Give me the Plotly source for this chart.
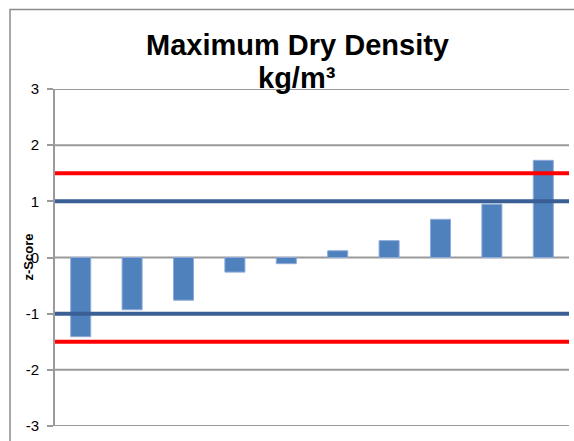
import plotly.graph_objects as go

categories = ["1", "2", "3", "4", "5", "6", "7", "8", "9", "10"]
z_scores = [-1.41, -0.93, -0.76, -0.26, -0.11, 0.12, 0.30, 0.68, 0.95, 1.73]
warn_limits = [1.0, -1.0]
action_limits = [1.5, -1.5]
y_ticks = [-3, -2, -1, 0, 1, 2, 3]

PLOT_TOP, PLOT_BOTTOM = 89, 426
GRID = "#9A9A9A"


def py(px):
    return (PLOT_BOTTOM - px) / (PLOT_BOTTOM - PLOT_TOP)


fig = go.Figure()
fig.add_trace(go.Bar(
    x=categories, y=z_scores, width=0.39,
    marker=dict(color="#4F81BD", line=dict(color="#8EAADB", width=1)),
    showlegend=False,
))

shapes = []
# horizontal gridlines at each tick
for t in y_ticks:
    shapes.append(dict(type="line", xref="paper", yref="y", x0=0, x1=1, y0=t, y1=t,
                       line=dict(color=GRID, width=2), layer="below"))
for v in warn_limits:
    shapes.append(dict(type="line", xref="paper", yref="y", x0=0, x1=1, y0=v, y1=v,
                       line=dict(color="#3A5F94", width=4), layer="above"))
for v in action_limits:
    shapes.append(dict(type="line", xref="paper", yref="y", x0=0, x1=1, y0=v, y1=v,
                       line=dict(color="#FF0000", width=4), layer="above"))
# outer chart frame
shapes.append(dict(type="rect", xref="paper", yref="paper", x0=-0.0875, x1=1.1,
                   y0=-0.2, y1=py(9.5), line=dict(color="#8C8C8C", width=1.5),
                   fillcolor="rgba(0,0,0,0)", layer="above"))

fig.update_layout(
    width=574, height=441,
    margin=dict(l=55, r=5, t=PLOT_TOP, b=441 - PLOT_BOTTOM),
    plot_bgcolor="white", paper_bgcolor="white",
    shapes=shapes,
    font=dict(family="Liberation Sans", color="#000000"),
    xaxis=dict(showticklabels=False, showgrid=False, zeroline=False, ticks="",
               range=[-0.5, 9.5]),
    yaxis=dict(range=[-3, 3], tickvals=y_ticks, ticktext=[str(t) for t in y_ticks],
               showgrid=False, zeroline=False,
               showline=True, linecolor=GRID, linewidth=2,
               ticks="outside", ticklen=6, tickcolor=GRID, tickwidth=2,
               ticklabelstandoff=5,
               tickfont=dict(size=15, family="Liberation Sans")),
    annotations=[
        dict(text="<b>Maximum Dry Density</b>", xref="paper", yref="paper",
             x=0.471, y=py(45), yanchor="middle", xanchor="center", showarrow=False,
             font=dict(size=29, family="Liberation Sans")),
        dict(text="<b>kg/m³</b>", xref="paper", yref="paper",
             x=0.471, y=py(78), yanchor="middle", xanchor="center", showarrow=False,
             font=dict(size=29, family="Liberation Sans")),
        dict(text="<b>z-Score</b>", xref="paper", yref="paper", x=-0.0525, y=0.5,
             textangle=-90, showarrow=False, xanchor="center", yanchor="middle",
             font=dict(size=13, family="Liberation Sans")),
    ],
)

fig.write_html("out.html")
